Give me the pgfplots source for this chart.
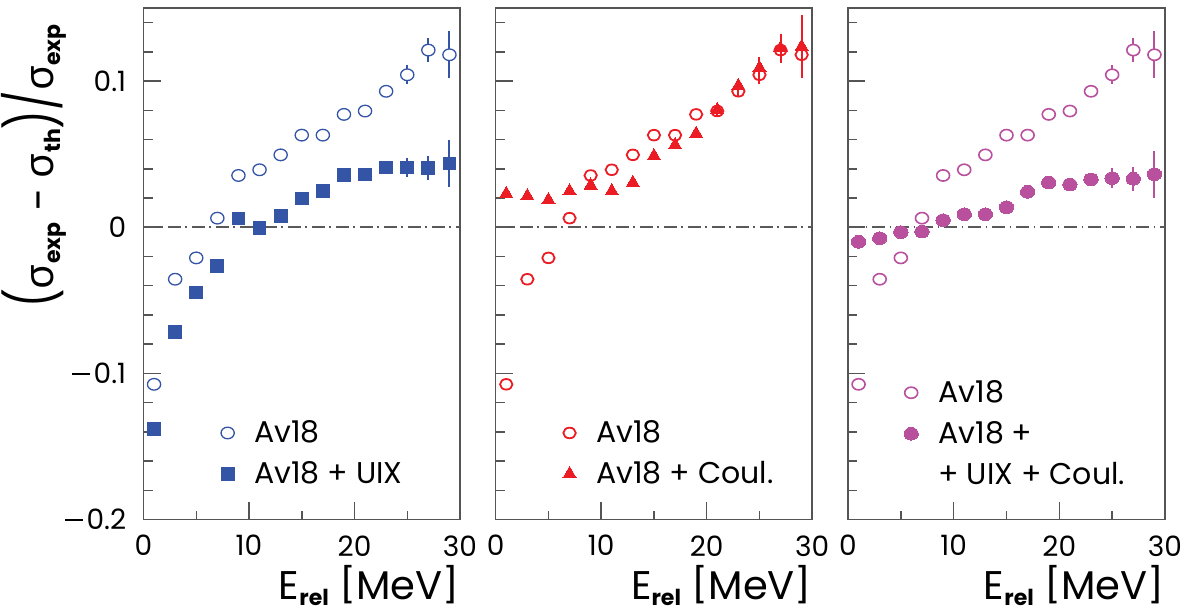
\documentclass[border=0pt]{standalone}
\usepackage{pgfplots}
\usepackage{pgfplotstable}
\pgfplotsset{compat=1.18}
\usepackage{fontspec}
\setmainfont{Poppins}
\newfontfamily\greekfont{Noto Sans}
\usepackage{graphicx}
\newlength\px
\setlength\px{0.5pt}
\newcommand\mn{\raisebox{0.31em}{\rule{0.64em}{0.07em}}\kern0.12em}
\newcommand\lb{\raisebox{0.06em}{\scalebox{1}[0.86]{[}}}
\newcommand\rb{\raisebox{0.06em}{\scalebox{1}[0.86]{]}}}
\definecolor{cblue}{RGB}{52,84,166}
\definecolor{cred}{RGB}{236,28,36}
\definecolor{cmag}{RGB}{185,80,158}
\definecolor{cframe}{RGB}{85,85,85}

\pgfplotstableread{
x y e
1 -0.1075 0
3 -0.0356 0
5 -0.0210 0
7 0.0062 0
9 0.0354 0
11 0.0393 0
13 0.0495 0
15 0.0630 0
17 0.0630 0
19 0.0772 0
21 0.0795 0.001
23 0.0930 0.003
25 0.1043 0.0065
27 0.1212 0.008
29 0.1180 0.016
}\avEighteen

\pgfplotstableread{
x y e
1 -0.1380 0
3 -0.0717 0
5 -0.0447 0
7 -0.0265 0
9 0.0060 0
11 -0.0005 0
13 0.0078 0
15 0.0196 0
17 0.0247 0
19 0.0356 0.001
21 0.0360 0.002
23 0.0409 0.003
25 0.0409 0.0066
27 0.0404 0.008
29 0.0436 0.016
}\uix

\pgfplotstableread{
x y e
1 0.0229 0
3 0.0213 0
5 0.0186 0
7 0.0247 0
9 0.0286 0.001
11 0.0247 0
13 0.0304 0
15 0.0487 0
17 0.0562 0.001
19 0.0640 0.002
21 0.0802 0.004
23 0.0967 0.004
25 0.1090 0.0072
27 0.1225 0.010
29 0.1235 0.0215
}\coul

\pgfplotstableread{
x y e
1 -0.0100 0
3 -0.0075 0
5 -0.0034 0
7 -0.0030 0
9 0.0048 0
11 0.0089 0
13 0.0089 0
15 0.0137 0
17 0.0242 0
19 0.0306 0
21 0.0292 0.002
23 0.0327 0.003
25 0.0336 0.0067
27 0.0331 0.008
29 0.0363 0.016
}\full

\pgfplotsset{
 panel/.style={
  scale only axis, width=316.5\px, height=511.5\px,
  xmin=0,xmax=30,ymin=-0.2,ymax=0.15,
  axis line style={cframe,line width=1.5\px},
  xtick={0,10,20,30}, minor xtick={5,15,25},
  ytick={-0.2,-0.1,0,0.1},
  minor ytick={-0.18,-0.16,-0.14,-0.12,-0.08,-0.06,-0.04,-0.02,0.02,0.04,0.06,0.08,0.12,0.14},
  tick align=inside, xtick pos=bottom, ytick pos=left,
  major tick length=17\px, minor tick length=9\px,
  tick style={cframe,line width=1.5\px},
  tick label style={font=\fontsize{14}{16}\selectfont, inner sep=0pt},
  xticklabel style={yshift=-15.5\px},
  yticklabel style={xshift=-17\px},
  xticklabels={0,10,20,30},
  xlabel={E\raisebox{-0.27ex}[0.6em][0pt]{\fontsize{11}{12}\selectfont\bfseries rel} \lb MeV\rb},
  xlabel style={at={(rel axis cs:1,0)}, anchor=base east, inner sep=0pt, text depth=0pt, yshift=-80\px, font=\fontsize{20}{24}\selectfont},
  clip=false,
  legend cell align=left,
 },
 leg/.style={legend style={at={#1}, anchor=north west, draw=none, fill=none, inner sep=0pt, outer sep=0pt, row sep=21\px, column sep=20\px, font=\fontsize{15}{17}\selectfont, nodes={inner sep=0pt, text height=10pt, text depth=0pt}}},
 zeroline/.style={forget plot, no marks, gray!70!black, line width=1.5\px, dash pattern=on 13\px off 4.5\px on 1.5\px off 5\px},
 ebar/.style={error bars/.cd, y dir=both, y explicit, error mark=none, error bar style={line width=2\px, #1}},
}

\begin{document}
\begin{tikzpicture}
\path[use as bounding box] (0,0) rectangle (1194\px,611\px);

% y label
\node[rotate=90, anchor=base east, inner sep=0pt, font=\fontsize{20.5}{24}\selectfont] at (53\px,587\px)
 {\scalebox{1}[1.35]{(}{\greekfont σ}\raisebox{-0.35ex}{\fontsize{11}{12}\selectfont\bfseries exp} − {\greekfont σ}\raisebox{-0.35ex}{\fontsize{11}{12}\selectfont\bfseries th}\scalebox{1}[1.35]{)}\scalebox{1}[1.35]{/}{\greekfont σ}\raisebox{-0.35ex}{\fontsize{11}{12}\selectfont\bfseries exp}};

% panel 1
\begin{axis}[panel, at={(143.5\px,91.5\px)}, anchor=south west,
  yticklabels={\mn0.2,\mn0.1,0,0.1},
  leg={(rel axis cs:0.245,0.1887)},
  legend image code/.code={\draw[#1] plot coordinates {(0pt,0pt)};}]
\addplot[zeroline] coordinates {(0,0) (30,0)};
\addplot[only marks, mark=*, mark size=5.8\px, color=cblue, fill=white,
  mark options={xscale=1.14, line width=1.3\px, fill=white}, ebar=cblue]
  table[x=x,y=y,y error=e]{\avEighteen};
\addlegendentry{Av18}
\addplot[only marks, mark=square*, mark size=6.4\px, color=cblue,
  mark options={line width=0pt}, ebar=cblue]
  table[x=x,y=y,y error=e]{\uix};
\addlegendentry{Av18 + UIX}
\end{axis}

% panel 2
\begin{axis}[panel, at={(495.7\px,91.5\px)}, anchor=south west,
  yticklabels={},
  leg={(rel axis cs:0.2126,0.1887)},
  legend image code/.code={\draw[#1] plot coordinates {(0pt,0pt)};}]
\addplot[zeroline] coordinates {(0,0) (30,0)};
\addplot[only marks, mark=o, mark size=5.3\px, color=cred,
  mark options={xscale=1.17, line width=1.8\px}, ebar=cred]
  table[x=x,y=y,y error=e]{\avEighteen};
\addlegendentry{Av18}
\addplot[only marks, mark=triangle*, mark size=7.6\px, color=cred,
  mark options={line width=0pt}, ebar=cred]
  table[x=x,y=y,y error=e]{\coul};
\addlegendentry{Av18 + Coul.}
\end{axis}

% panel 3
\begin{axis}[panel, at={(848\px,91.5\px)}, anchor=south west, width=317\px,
  yticklabels={},
  leg={(rel axis cs:0.1767,0.2674)},
  legend image code/.code={\draw[#1] plot coordinates {(0pt,0pt)};}]
\addplot[zeroline] coordinates {(0,0) (30,0)};
\addplot[only marks, mark=*, mark size=5.6\px, color=cmag,
  mark options={xscale=1.16, line width=1.6\px, fill=white}, ebar=cmag]
  table[x=x,y=y,y error=e]{\avEighteen};
\addlegendentry{Av18}
\addplot[only marks, mark=*, mark size=6.35\px, color=cmag,
  mark options={xscale=1.13, line width=0pt}, ebar=cmag]
  table[x=x,y=y,y error=e]{\full};
\addlegendentry{Av18 +}
\addlegendimage{empty legend}
\addlegendentry{+ UIX + Coul.}
\end{axis}
\end{tikzpicture}
\end{document}
